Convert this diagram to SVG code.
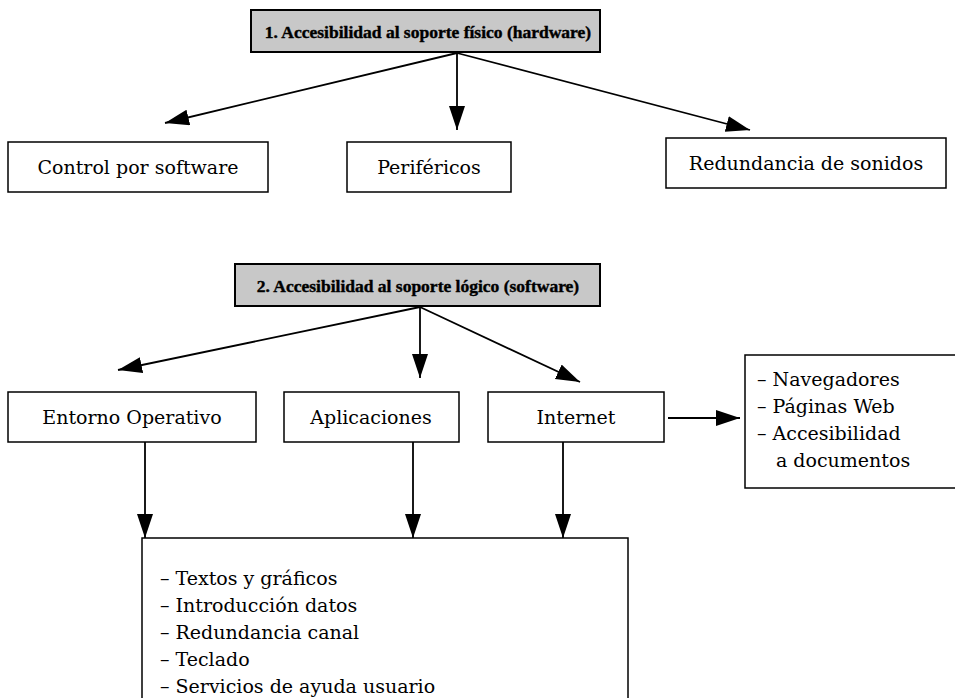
<svg xmlns="http://www.w3.org/2000/svg" width="955" height="698" viewBox="0 0 955 698">
<style>
.box{fill:#fff;stroke:#000;stroke-width:1.5}
.hdr{fill:#c8c8c8;stroke:#000;stroke-width:2}
.t{font-family:"DejaVu Serif","Liberation Serif",serif;font-size:19px;fill:#000}
.h{font-family:"Liberation Serif","DejaVu Serif",serif;font-size:17.5px;font-weight:bold;fill:#000;stroke:#000;stroke-width:0.4}
.c{stroke:#000;stroke-width:1.8;fill:none;marker-end:url(#ah)}
</style>
<defs>
<marker id="ah" markerUnits="userSpaceOnUse" markerWidth="26" markerHeight="18" refX="24" refY="8" orient="auto">
<path d="M0,0 L24,8 L0,16 Z" fill="#000"/>
</marker>
</defs>
<g id="n1"><rect class="hdr" x="251" y="10" width="349" height="42"/><text class="h" x="428" y="38" text-anchor="middle">1.  Accesibilidad al soporte físico (hardware)</text></g>
<g id="n2"><rect class="box" x="8" y="142" width="260" height="50"/><text class="t" x="138" y="174" text-anchor="middle">Control por software</text></g>
<g id="n3"><rect class="box" x="347" y="142" width="164" height="50"/><text class="t" x="429" y="174" text-anchor="middle">Periféricos</text></g>
<g id="n4"><rect class="box" x="666" y="138" width="280" height="50"/><text class="t" x="806" y="170" text-anchor="middle">Redundancia de sonidos</text></g>
<g id="n5"><rect class="hdr" x="235" y="264" width="365" height="42"/><text class="h" x="418" y="292" text-anchor="middle">2.  Accesibilidad al soporte lógico (software)</text></g>
<g id="n6"><rect class="box" x="8" y="392" width="248" height="50"/><text class="t" x="132" y="424" text-anchor="middle">Entorno Operativo</text></g>
<g id="n7"><rect class="box" x="284" y="392" width="175" height="50"/><text class="t" x="371" y="424" text-anchor="middle">Aplicaciones</text></g>
<g id="n8"><rect class="box" x="488" y="392" width="176" height="50"/><text class="t" x="576" y="424" text-anchor="middle">Internet</text></g>
<g id="n9"><rect class="box" x="745" y="355" width="215" height="133"/>
<text class="t" x="757" y="386">– Navegadores</text>
<text class="t" x="757" y="413">– Páginas Web</text>
<text class="t" x="757" y="440">– Accesibilidad</text>
<text class="t" x="776" y="467">a documentos</text></g>
<g id="n10"><rect class="box" x="142" y="538" width="486" height="170"/>
<text class="t" x="160" y="585">– Textos y gráficos</text>
<text class="t" x="160" y="612">– Introducción datos</text>
<text class="t" x="160" y="639">– Redundancia canal</text>
<text class="t" x="160" y="666">– Teclado</text>
<text class="t" x="160" y="693">– Servicios de ayuda usuario</text></g>
<g id="connectors">
<line class="c" x1="457" y1="53" x2="165" y2="123"/>
<line class="c" x1="457" y1="53" x2="457" y2="130"/>
<line class="c" x1="457" y1="53" x2="750" y2="130"/>
<line class="c" x1="420" y1="307" x2="118" y2="370"/>
<line class="c" x1="420" y1="307" x2="420" y2="378"/>
<line class="c" x1="420" y1="307" x2="580" y2="382"/>
<line class="c" x1="668" y1="418" x2="740" y2="418"/>
<line class="c" x1="145" y1="442" x2="145" y2="538"/>
<line class="c" x1="413" y1="442" x2="413" y2="538"/>
<line class="c" x1="563" y1="442" x2="563" y2="538"/>
</g>
</svg>
